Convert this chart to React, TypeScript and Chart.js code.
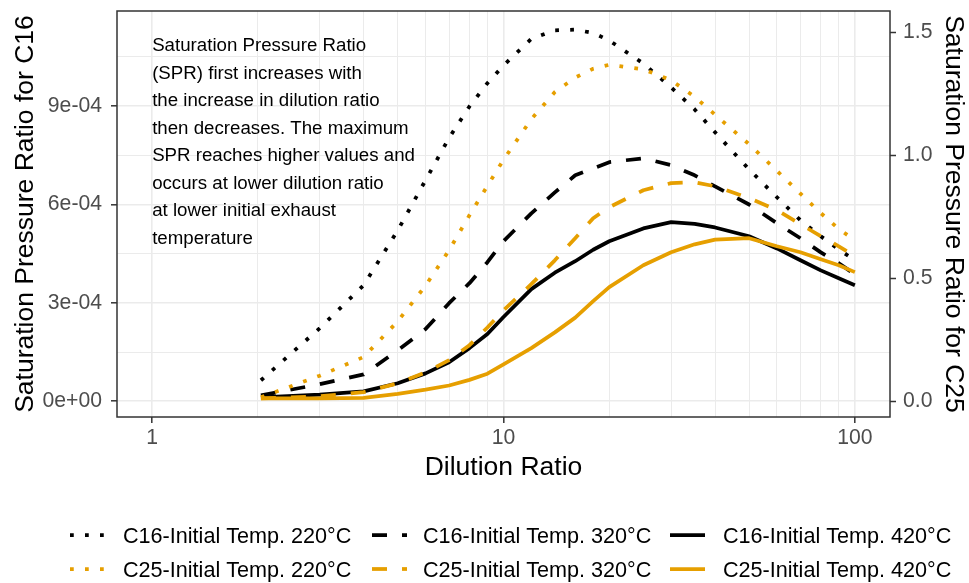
import React, { useEffect, useRef } from 'react';
import { Chart, registerables } from 'chart.js';

Chart.register(...registerables);

const WIDTH = 969;
const HEIGHT = 583;
const FONT = '"Liberation Sans", Arial, Helvetica, sans-serif';

const BLACK = '#000000';
const GOLD = '#E69F00';
const GRID = '#EBEBEB';
const DARK = '#333333';
const TICK_TEXT = '#4D4D4D';

const LINE_WIDTH = 3.75;
const DOTTED = [3.75, 11.25];
const DASHED = [15, 15];
const SOLID: number[] = [];

// Dilution ratios where the saturation pressure ratio was evaluated
const dilutionRatio = [2.04, 3, 4, 5, 6, 7, 8, 9, 10, 12, 14, 16, 18, 20, 25, 30, 35, 40, 50, 60, 70, 80, 90, 100];

// C16 saturation pressure ratio, in units of 1e-4 (left axis)
const c16T220 = [0.64, 2.23, 3.54, 5.21, 6.74, 8.03, 8.99, 9.7, 10.24, 11.05, 11.31, 11.33, 11.23, 11.0, 10.3, 9.57, 8.9, 8.2, 7.07, 6.22, 5.52, 5.03, 4.63, 4.3];
const c16T320 = [0.18, 0.52, 0.82, 1.55, 2.2, 2.99, 3.6, 4.24, 4.88, 5.73, 6.37, 6.89, 7.1, 7.29, 7.41, 7.2, 6.89, 6.55, 6.0, 5.43, 4.97, 4.54, 4.21, 3.87];
const c16T420 = [0.12, 0.2, 0.3, 0.55, 0.85, 1.19, 1.62, 2.05, 2.57, 3.42, 3.92, 4.27, 4.62, 4.88, 5.27, 5.46, 5.41, 5.3, 5.03, 4.66, 4.3, 3.99, 3.75, 3.54];

// C25 saturation pressure ratio (right axis)
const c25T220 = [0.016, 0.104, 0.18, 0.325, 0.47, 0.614, 0.756, 0.876, 0.982, 1.147, 1.257, 1.316, 1.352, 1.368, 1.35, 1.305, 1.238, 1.165, 1.045, 0.937, 0.844, 0.765, 0.7, 0.655];
const c25T320 = [0.012, 0.02, 0.037, 0.073, 0.118, 0.167, 0.228, 0.3, 0.37, 0.476, 0.573, 0.663, 0.744, 0.789, 0.858, 0.887, 0.89, 0.874, 0.826, 0.777, 0.72, 0.671, 0.63, 0.59];
const c25T420 = [0.012, 0.012, 0.014, 0.03, 0.047, 0.064, 0.087, 0.112, 0.15, 0.216, 0.28, 0.34, 0.407, 0.464, 0.553, 0.606, 0.638, 0.657, 0.663, 0.63, 0.606, 0.577, 0.553, 0.525];

// Axis ticks
const xTickValues = [1, 2, 3, 4, 5, 6, 7, 8, 9, 10, 20, 30, 40, 50, 60, 70, 80, 90, 100];
const xMajorTicks = [1, 10, 100];
const yLeftTickValues = [0, 1.5, 3, 4.5, 6, 7.5, 9, 10.5]; // x1e-4
const yLeftTickLabels = ['0e+00', '', '3e-04', '', '6e-04', '', '9e-04', ''];
const yRightTickValues = [0, 0.5, 1.0, 1.5];
const yRightTickLabels = ['0.0', '0.5', '1.0', '1.5'];

// Left-axis range (x1e-4) and how many left units equal 1.0 on the right axis
const yLeftMin = -0.48;
const yLeftMax = 11.9;
const leftPerRightUnit = 7.5;

const xTitle = 'Dilution Ratio';
const yLeftTitle = 'Saturation Pressure Ratio for C16';
const yRightTitle = 'Saturation Pressure Ratio for C25';

const noteLines = [
  'Saturation Pressure Ratio',
  '(SPR) first increases with',
  'the increase in dilution ratio',
  'then decreases. The maximum',
  'SPR reaches higher values and',
  'occurs at lower dilution ratio',
  'at lower initial exhaust',
  'temperature',
];

const seriesList = [
  { label: 'C16-Initial Temp. 220°C', values: c16T220, factor: 1e-4, axis: 'y', color: BLACK, dash: DOTTED },
  { label: 'C16-Initial Temp. 320°C', values: c16T320, factor: 1e-4, axis: 'y', color: BLACK, dash: DASHED },
  { label: 'C16-Initial Temp. 420°C', values: c16T420, factor: 1e-4, axis: 'y', color: BLACK, dash: SOLID },
  { label: 'C25-Initial Temp. 220°C', values: c25T220, factor: 1, axis: 'y2', color: GOLD, dash: DOTTED },
  { label: 'C25-Initial Temp. 320°C', values: c25T320, factor: 1, axis: 'y2', color: GOLD, dash: DASHED },
  { label: 'C25-Initial Temp. 420°C', values: c25T420, factor: 1, axis: 'y2', color: GOLD, dash: SOLID },
];

const clearPadding = (scale: any) => {
  scale.paddingTop = 0;
  scale.paddingBottom = 0;
  scale.paddingLeft = 0;
  scale.paddingRight = 0;
};

const decorPlugin = {
  id: 'decor',
  afterDatasetsDraw(chart: any) {
    const { ctx, chartArea: a } = chart;
    ctx.save();
    // panel border
    ctx.strokeStyle = DARK;
    ctx.lineWidth = 1.5;
    ctx.setLineDash([]);
    ctx.strokeRect(a.left, a.top, a.right - a.left, a.bottom - a.top);
    // explanatory note
    const xs = chart.scales.x;
    const noteX = xs.getPixelForValue(1);
    ctx.fillStyle = BLACK;
    ctx.font = `18.7px ${FONT}`;
    ctx.textAlign = 'left';
    ctx.textBaseline = 'alphabetic';
    noteLines.forEach((line, i) => {
      ctx.fillText(line, noteX, a.top + 40 + i * 27.5);
    });
    ctx.restore();
  },
  afterDraw(chart: any) {
    const { ctx, chartArea: a } = chart;
    const cx = (a.left + a.right) / 2;
    const cy = (a.top + a.bottom) / 2;
    ctx.save();
    ctx.fillStyle = BLACK;
    ctx.font = `26.5px ${FONT}`;
    ctx.textAlign = 'center';
    ctx.textBaseline = 'alphabetic';
    ctx.fillText(xTitle, cx, 475);

    ctx.save();
    ctx.translate(33, cy);
    ctx.rotate(-Math.PI / 2);
    ctx.fillText(yLeftTitle, 0, 0);
    ctx.restore();

    ctx.save();
    ctx.translate(946, cy);
    ctx.rotate(Math.PI / 2);
    ctx.fillText(yRightTitle, 0, 0);
    ctx.restore();

    // legend: three columns, two rows
    const keyX = [70, 372, 670];
    const textX = [123, 423, 723];
    const rowY = [535, 569];
    ctx.font = `21.6px ${FONT}`;
    ctx.textAlign = 'left';
    seriesList.forEach((s, i) => {
      const col = i % 3;
      const row = Math.floor(i / 3);
      const y = rowY[row];
      ctx.beginPath();
      ctx.strokeStyle = s.color;
      ctx.lineWidth = LINE_WIDTH;
      ctx.lineCap = 'butt';
      ctx.setLineDash(s.dash);
      ctx.moveTo(keyX[col], y);
      ctx.lineTo(keyX[col] + 35, y);
      ctx.stroke();
      ctx.setLineDash([]);
      ctx.fillStyle = BLACK;
      ctx.fillText(s.label, textX[col], y + 8);
    });
    ctx.restore();
  },
};

export default function App() {
  const canvasRef = useRef<HTMLCanvasElement | null>(null);

  useEffect(() => {
    if (!canvasRef.current) return;
    const tickFont = { family: FONT, size: 21.2 };
    const chart = new Chart(canvasRef.current, {
      type: 'line',
      data: {
        datasets: seriesList.map((s) => ({
          label: s.label,
          data: dilutionRatio.map((x, i) => ({ x, y: s.values[i] * s.factor })),
          yAxisID: s.axis,
          borderColor: s.color,
          backgroundColor: s.color,
          borderWidth: LINE_WIDTH,
          borderDash: s.dash,
          borderCapStyle: 'butt',
          borderJoinStyle: 'round',
          pointRadius: 0,
          tension: 0,
          fill: false,
          order: s.axis === 'y2' ? 0 : 1,
        })),
      },
      options: {
        responsive: false,
        animation: false,
        devicePixelRatio: 1,
        events: [],
        layout: { padding: { top: 11, left: 0, right: 0, bottom: 0 } },
        plugins: {
          legend: { display: false },
          tooltip: { enabled: false },
          title: { display: false },
        },
        scales: {
          x: {
            type: 'logarithmic',
            position: 'bottom',
            min: Math.pow(10, -0.1),
            max: Math.pow(10, 2.1),
            afterBuildTicks: (scale: any) => {
              scale.ticks = xTickValues.map((v) => ({ value: v }));
            },
            afterFit: (scale: any) => {
              scale.height = HEIGHT - 417;
              clearPadding(scale);
            },
            border: { display: false },
            grid: {
              color: GRID,
              lineWidth: (c: any) => (xMajorTicks.includes(c.tick?.value) ? 1.6 : 1),
              tickColor: (c: any) => (xMajorTicks.includes(c.tick?.value) ? DARK : 'rgba(0,0,0,0)'),
              tickWidth: 1.5,
              tickLength: 6,
            },
            ticks: {
              autoSkip: false,
              maxRotation: 0,
              padding: 2.3,
              color: TICK_TEXT,
              font: tickFont,
              callback: (v: any) => (xMajorTicks.includes(Number(v)) ? String(v) : ''),
            },
          },
          y: {
            type: 'linear',
            position: 'left',
            min: yLeftMin * 1e-4,
            max: yLeftMax * 1e-4,
            afterBuildTicks: (scale: any) => {
              scale.ticks = yLeftTickValues.map((v) => ({ value: v * 1e-4 }));
            },
            afterFit: (scale: any) => {
              scale.width = 117;
              clearPadding(scale);
            },
            border: { display: false },
            grid: {
              color: GRID,
              lineWidth: (c: any) => (c.index % 2 === 0 ? 1.6 : 1),
              tickColor: (c: any) => (c.index % 2 === 0 ? DARK : 'rgba(0,0,0,0)'),
              tickWidth: 1.5,
              tickLength: 6,
            },
            ticks: {
              autoSkip: false,
              padding: 9,
              color: TICK_TEXT,
              font: tickFont,
              callback: (_v: any, i: number) => yLeftTickLabels[i],
            },
          },
          y2: {
            type: 'linear',
            position: 'right',
            min: yLeftMin / leftPerRightUnit,
            max: yLeftMax / leftPerRightUnit,
            afterBuildTicks: (scale: any) => {
              scale.ticks = yRightTickValues.map((v) => ({ value: v }));
            },
            afterFit: (scale: any) => {
              scale.width = WIDTH - 890;
              clearPadding(scale);
            },
            border: { display: false },
            grid: {
              drawOnChartArea: false,
              color: DARK,
              tickColor: DARK,
              tickWidth: 1.5,
              tickLength: 6,
            },
            ticks: {
              autoSkip: false,
              padding: 7,
              color: TICK_TEXT,
              font: tickFont,
              callback: (_v: any, i: number) => yRightTickLabels[i],
            },
          },
        },
      } as any,
      plugins: [decorPlugin],
    });
    return () => chart.destroy();
  }, []);

  return (
    <div style={{ position: 'fixed', left: 0, top: 0, width: WIDTH, height: HEIGHT, background: '#ffffff' }}>
      <canvas ref={canvasRef} width={WIDTH} height={HEIGHT} style={{ display: 'block', width: WIDTH, height: HEIGHT }} />
    </div>
  );
}
